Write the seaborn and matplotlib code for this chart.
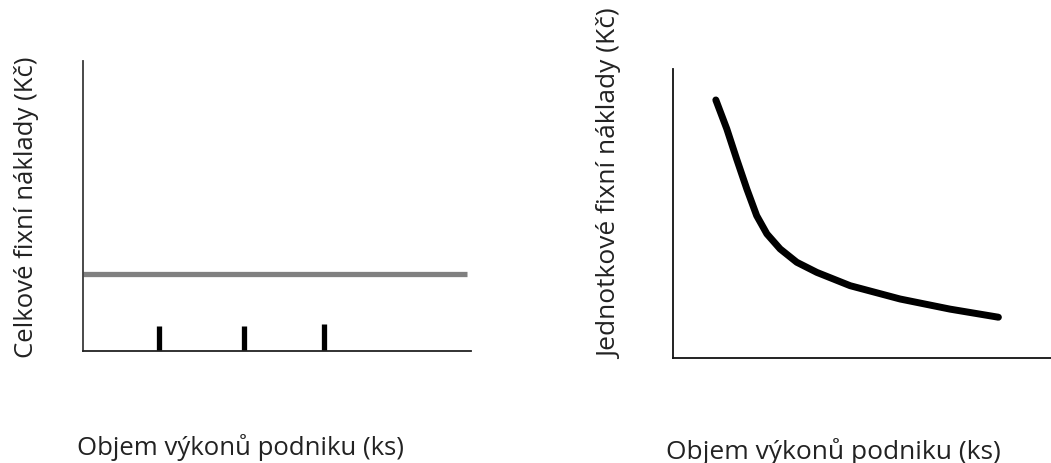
import numpy as np
import pandas as pd
import matplotlib
matplotlib.use("Agg")
import matplotlib.pyplot as plt
import seaborn as sns

# ---- data ----
# left panel: total fixed costs (constant) and step markers
fixed_x = [0, 99]
fixed_y = [26.5, 26.5]
step_x = [19.7, 41.4, 62.2]
step_h = [8.6, 8.6, 9.2]

# right panel: unit fixed costs (decreasing curve)
unit_x = [11.4, 14.3, 16.9, 19.6, 22.2, 24.9, 28.4, 32.8, 38.1, 46.9, 60.1, 73.3, 86.1]
unit_y = [89.3, 79.3, 68.9, 58.5, 49.3, 43.0, 37.8, 33.2, 29.7, 25.1, 20.5, 17.0, 14.2]

xlabel = "Objem výkonů podniku (ks)"
ylabel_left = "Celkové fixní náklady (Kč)"
ylabel_right = "Jednotkové fixní náklady (Kč)"

sns.set_style("white")
plt.rcParams["font.family"] = ["Open Sans", "DejaVu Sans"]

fig = plt.figure(figsize=(10.51, 4.64), dpi=100)
ax1 = fig.add_axes([83/1051, (464-351.7)/464, 387.7/1051, 289.7/464])
ax2 = fig.add_axes([672.7/1051, (464-359.3)/464, 378.3/1051, 289.3/464])

df_fixed = pd.DataFrame({"x": fixed_x, "y": fixed_y})
sns.lineplot(data=df_fixed, x="x", y="y", ax=ax1, color="#808080", lw=3.8,
             solid_capstyle="butt")
ax1.vlines(step_x, 0, step_h, colors="black", lw=3.8)

df_unit = pd.DataFrame({"x": unit_x, "y": unit_y})
sns.lineplot(data=df_unit, x="x", y="y", ax=ax2, color="black", lw=5,
             solid_capstyle="round", solid_joinstyle="round", sort=False)

for ax in (ax1, ax2):
    ax.set_xlim(0, 100)
    ax.set_ylim(0, 100)
    ax.set_xticks([])
    ax.set_yticks([])
    sns.despine(ax=ax)
    ax.margins(0)

ax1.spines["left"].set(color="#3a3a3a", linewidth=1.3)
ax1.spines["bottom"].set(color="#222222", linewidth=1.3)
ax2.spines["left"].set(color="#111111", linewidth=1.3)
ax2.spines["bottom"].set(color="#111111", linewidth=1.3)

ax1.set_xlabel(xlabel, fontsize=18.5, color="#222222", va="baseline")
ax1.xaxis.set_label_coords(0.405, -0.3566)
ax1.set_ylabel(ylabel_left, fontsize=18.5, color="#222222", va="center")
ax1.yaxis.set_label_coords(-0.1457, 0.4978)

ax2.set_xlabel(xlabel, fontsize=19, color="#222222", va="baseline")
ax2.xaxis.set_label_coords(0.426, -0.345)
ax2.set_ylabel(ylabel_right, fontsize=19, color="#222222", va="center")
ax2.yaxis.set_label_coords(-0.163, 0.606)

fig.savefig("out.png", dpi=100)
